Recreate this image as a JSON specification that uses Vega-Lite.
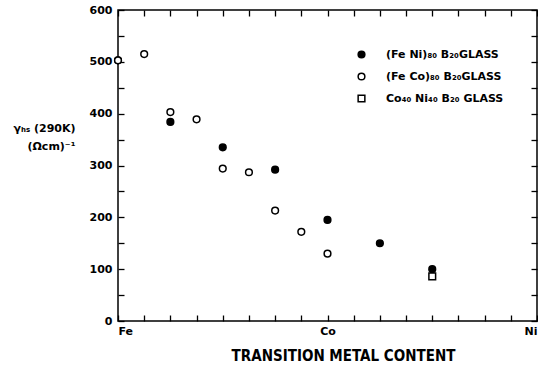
{
  "$schema": "https://vega.github.io/schema/vega-lite/v6.json",
  "autosize": {"type": "none"},
  "padding": {"left": 118, "top": 10, "right": 1, "bottom": 49},
  "width": 419,
  "height": 311,
  "config": {
    "view": {"stroke": "black", "strokeWidth": 1.5},
    "font": "DejaVu Sans",
    "axis": {"grid": false, "domain": false, "tickColor": "black", "tickWidth": 1.3, "labelColor": "black", "titleColor": "black", "labelFont": "DejaVu Sans", "labelFontWeight": "bold", "labelFontSize": 11, "titleFont": "DejaVu Sans", "titleFontWeight": "bold"}
  },
  "data": {"values": [
    {"x": 0, "y": 503, "series": "(Fe Ni)₈₀ B₂₀GLASS"},
    {"x": 2, "y": 384, "series": "(Fe Ni)₈₀ B₂₀GLASS"},
    {"x": 4, "y": 335, "series": "(Fe Ni)₈₀ B₂₀GLASS"},
    {"x": 6, "y": 292, "series": "(Fe Ni)₈₀ B₂₀GLASS"},
    {"x": 8, "y": 195, "series": "(Fe Ni)₈₀ B₂₀GLASS"},
    {"x": 10, "y": 150, "series": "(Fe Ni)₈₀ B₂₀GLASS"},
    {"x": 12, "y": 100, "series": "(Fe Ni)₈₀ B₂₀GLASS"},
    {"x": 0, "y": 503, "series": "(Fe Co)₈₀ B₂₀GLASS"},
    {"x": 1, "y": 515, "series": "(Fe Co)₈₀ B₂₀GLASS"},
    {"x": 2, "y": 403, "series": "(Fe Co)₈₀ B₂₀GLASS"},
    {"x": 3, "y": 389, "series": "(Fe Co)₈₀ B₂₀GLASS"},
    {"x": 4, "y": 294, "series": "(Fe Co)₈₀ B₂₀GLASS"},
    {"x": 5, "y": 287, "series": "(Fe Co)₈₀ B₂₀GLASS"},
    {"x": 6, "y": 213, "series": "(Fe Co)₈₀ B₂₀GLASS"},
    {"x": 7, "y": 172, "series": "(Fe Co)₈₀ B₂₀GLASS"},
    {"x": 8, "y": 130, "series": "(Fe Co)₈₀ B₂₀GLASS"},
    {"x": 12, "y": 86, "series": "Co₄₀ Ni₄₀ B₂₀ GLASS"}
  ]},
  "resolve": {"axis": {"x": "independent", "y": "independent"}},
  "layer": [
    {
      "mark": {"type": "point", "filled": true, "opacity": 1, "stroke": "black", "strokeWidth": 1.5, "size": 45},
      "encoding": {
        "x": {"field": "x", "type": "quantitative", "scale": {"domain": [0, 16], "nice": false},
          "axis": {"orient": "bottom", "values": [0,1,2,3,4,5,6,7,8,9,10,11,12,13,14,15,16], "tickSize": -6, "labelPadding": 10,
            "labelExpr": "datum.value == 0 ? 'Fe' : datum.value == 8 ? 'Co' : datum.value == 16 ? 'Ni' : ''",
            "labelAlign": {"condition": [{"test": "datum.value == 0", "value": "left"}, {"test": "datum.value == 16", "value": "right"}], "value": "center"},
            "labelFlush": false, "labelOverlap": false, "labelBound": false,
            "title": "TRANSITION  METAL  CONTENT", "titleFontSize": 15, "titleFont": "DejaVu Sans Condensed", "titlePadding": 12, "titleX": 225, "titleAlign": "center"}},
        "y": {"field": "y", "type": "quantitative", "scale": {"domain": [0, 600], "nice": false},
          "axis": {"orient": "left", "values": [0,50,100,150,200,250,300,350,400,450,500,550,600], "tickSize": -6, "labelPadding": 12,
            "labelExpr": "datum.value % 100 == 0 ? datum.label : ''", "labelFlush": false, "labelOverlap": false,
            "title": ["γₕₛ (290K)", "(Ωcm)⁻¹"], "titleAngle": 0, "titleAlign": "right", "titleBaseline": "middle", "titleX": -43, "titleY": 118, "titleFontSize": 11, "titleLineHeight": 18}},
        "fill": {"field": "series", "type": "nominal", "sort": null,
          "scale": {"domain": ["(Fe Ni)₈₀ B₂₀GLASS", "(Fe Co)₈₀ B₂₀GLASS", "Co₄₀ Ni₄₀ B₂₀ GLASS"], "range": ["black", "white", "white"]},
          "legend": {"title": null, "orient": "none", "legendX": 238, "legendY": 39, "padding": 0, "rowPadding": 9, "labelOffset": 19, "labelFontSize": 11, "labelFontWeight": "bold", "labelColor": "black", "symbolStrokeColor": "black", "symbolStrokeWidth": 1.5, "symbolSize": 45, "symbolOpacity": 1, "labelFont": "DejaVu Sans"}},
        "shape": {"field": "series", "type": "nominal", "sort": null,
          "scale": {"domain": ["(Fe Ni)₈₀ B₂₀GLASS", "(Fe Co)₈₀ B₂₀GLASS", "Co₄₀ Ni₄₀ B₂₀ GLASS"], "range": ["circle", "circle", "square"]}},
        "order": {"field": "x", "type": "quantitative"}
      }
    },
    {
      "mark": {"type": "point", "opacity": 0},
      "encoding": {
        "x": {"field": "x", "type": "quantitative", "scale": {"domain": [0, 16], "nice": false},
          "axis": {"orient": "top", "values": [0,1,2,3,4,5,6,7,8,9,10,11,12,13,14,15,16], "tickSize": -6, "labels": false, "title": null}},
        "y": {"field": "y", "type": "quantitative", "scale": {"domain": [0, 600], "nice": false},
          "axis": {"orient": "right", "values": [0,50,100,150,200,250,300,350,400,450,500,550,600], "tickSize": -6, "labels": false, "title": null}}
      }
    }
  ]
}
